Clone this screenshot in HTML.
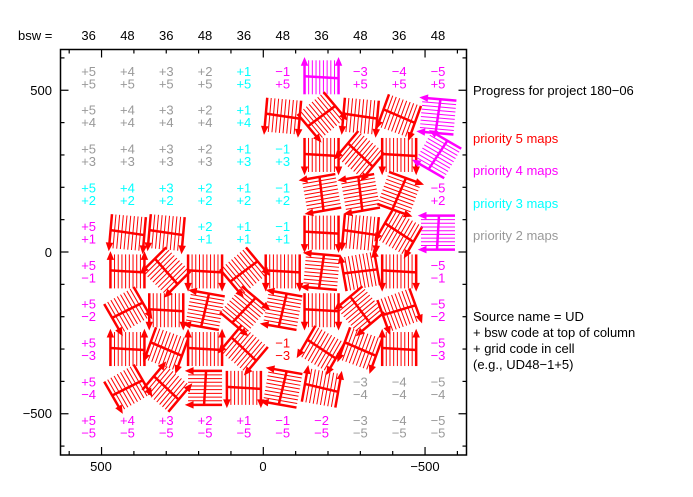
<!DOCTYPE html>
<html><head><meta charset="utf-8"><style>
html,body{margin:0;padding:0;background:#fff;}
svg{display:block;font-family:"Liberation Sans",sans-serif;}
</style></head><body>
<svg id="s" width="693" height="497" viewBox="0 0 693 497" xmlns="http://www.w3.org/2000/svg">
<rect x="60.5" y="49.5" width="406" height="405.5" fill="none" stroke="#000" stroke-width="1.5"/>
<g id="ticks" stroke="#000" stroke-width="1.2"></g>
<g font-size="13" fill="#000">
<text x="18" y="40">bsw =</text>
<text x="101" y="471" text-anchor="middle">500</text>
<text x="263" y="471" text-anchor="middle">0</text>
<text x="425" y="471" text-anchor="middle">−500</text>
<text x="52" y="95" text-anchor="end">500</text>
<text x="52" y="257" text-anchor="end">0</text>
<text x="52" y="418" text-anchor="end">−500</text>
<text x="473" y="95">Progress for project 180−06</text>
<text x="473" y="143" fill="#ff0000">priority 5 maps</text>
<text x="473" y="175" fill="#ff00ff">priority 4 maps</text>
<text x="473" y="208" fill="#00ffff">priority 3 maps</text>
<text x="473" y="240" fill="#999999">priority 2 maps</text>
<text x="473" y="321">Source name = UD</text>
<text x="473" y="337"> + bsw code at top of column</text>
<text x="473" y="353"> + grid code in cell</text>
<text x="473" y="369">(e.g., UD48−1+5)</text>
</g>
<g id="cells" font-size="13" text-anchor="middle"></g>
</svg>
<script>
const NS="http://www.w3.org/2000/svg";
const s=document.getElementById('s'),T=document.getElementById('ticks'),C=document.getElementById('cells');
function el(p,tag,a,txt){const e=document.createElementNS(NS,tag);for(const k in a)e.setAttribute(k,a[k]);if(txt!=null)e.textContent=txt;p.appendChild(e);return e;}
const X=v=>263.3-0.3235*v, Y=v=>252-0.3235*v;
for(let v=-600;v<=600;v+=100){const x=X(v);if(x<61||x>466)continue;const L=(v%500==0)?8:4;
 el(T,'line',{x1:x,y1:49.5,x2:x,y2:49.5+L});el(T,'line',{x1:x,y1:455,x2:x,y2:455-L});}
for(let v=-600;v<=600;v+=100){const y=Y(v);if(y<50||y>455)continue;const L=(v%500==0)?8:4;
 el(T,'line',{x1:60.5,y1:y,x2:60.5+L,y2:y});el(T,'line',{x1:466.5,y1:y,x2:466.5-L,y2:y});}
const gx=['+5','+4','+3','+2','+1','−1','−2','−3','−4','−5'];
const gy=['+5','+4','+3','+2','+1','−1','−2','−3','−4','−5'];
for(let i=0;i<10;i++)el(C,'text',{x:X(540-120*i),y:40,fill:'#000'},i%2?'48':'36');
const R='#ff0000',M='#ff00ff',Cy='#00ffff',G='#999999';
const grid=[
 ['tG','tG','tG','tG','tC','tM','gM180','tM','tM','tM'],
 ['tG','tG','tG','tG','tC','gR5','gR-40','gR5','gR20','gM95'],
 ['tG','tG','tG','tG','tC','tC','gR0','gR40','gR0','gM120'],
 ['tC','tC','tC','tC','tC','tC','gR80','gR80','gR-70','tM'],
 ['tM','gR5','gR5','tC','tC','tC','gR0','gR5','gR30','gM90'],
 ['tM','gR180','gR45','gR0','gR-40','gR0','gR95','gR170','gR0','tM'],
 ['tM','gR-30','gR0','gR100','gR-50','gR100','gR0','gR50','gR-20','tM'],
 ['tM','gR180','gR20','gR180','gR40','tR','gR30','gR20','gR180','tM'],
 ['tM','gR-30','gR-140','gR90','gR0','gR100','gR-170','tG','tG','tG'],
 ['tM','tM','tM','tM','tM','tM','tM','tG','tG','tG']];
const col={G:G,C:Cy,M:M,R:R};
function glyph(cx,cy,ang,c){
 const g=el(C,'g',{transform:`translate(${cx},${cy}) rotate(${ang})`,stroke:c,fill:'none'});
 for(let k=-13;k<=13;k+=3.7)el(g,'line',{x1:k,y1:-17,x2:k,y2:17,'stroke-width':1,stroke:c});
 el(g,'line',{x1:-17,y1:-17,x2:-17,y2:17,'stroke-width':2.5});
 el(g,'line',{x1:17,y1:-17,x2:17,y2:17,'stroke-width':2.5});
 el(g,'line',{x1:-17,y1:-1,x2:17,y2:1,'stroke-width':2.5});
 el(g,'path',{d:'M-20,12 L-17,19 L-14,12 Z',fill:c,'stroke-width':1});
 el(g,'path',{d:'M14,12 L17,19 L20,12 Z',fill:c,'stroke-width':1});
}
for(let j=0;j<10;j++)for(let i=0;i<10;i++){
 const sp=grid[j][i],cx=X(540-120*i),cy=Y(540-120*j);const c=col[sp[1]];
 if(sp[0]=='t'){el(C,'text',{x:cx,y:cy-1.5,fill:c},gx[i]);el(C,'text',{x:cx,y:cy+11,fill:c},gy[j]);}
 else glyph(cx,cy,parseFloat(sp.slice(2)),c);
}
</script>
</body></html>
